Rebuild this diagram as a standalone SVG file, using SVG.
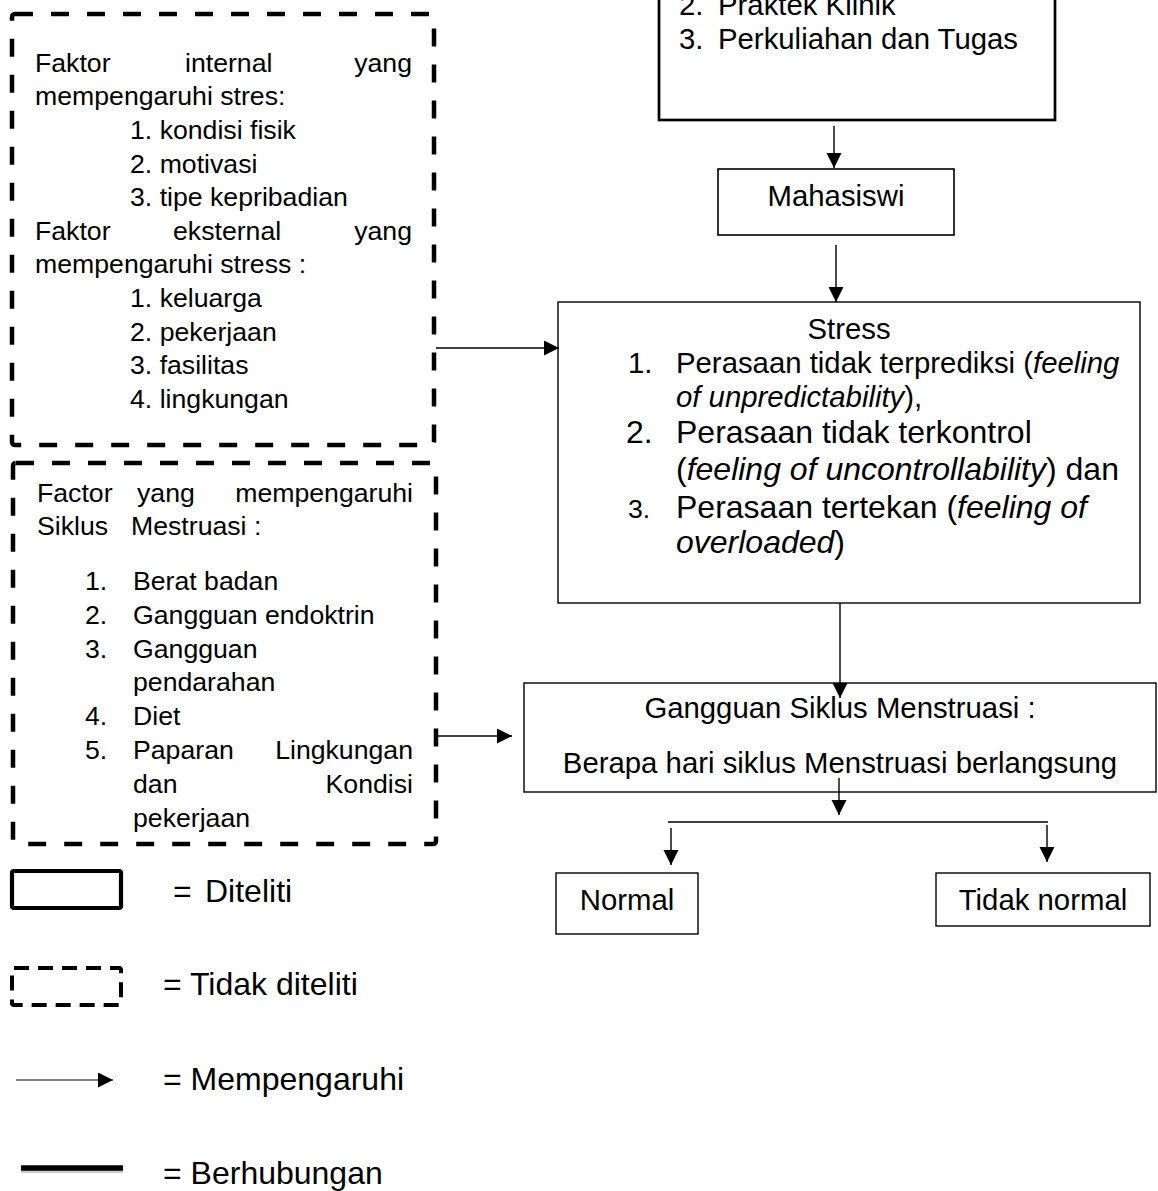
<svg xmlns="http://www.w3.org/2000/svg" width="1158" height="1191" viewBox="0 0 1158 1191">
<style>
text{font-family:"Liberation Sans",Arial,sans-serif;fill:#000}
.f26{font-size:26.67px}
.f29{font-size:29.33px}
.f32{font-size:32px}
.it{font-style:italic}
.dash{fill:none;stroke:#000;stroke-width:4.5;stroke-dasharray:18 18}
.box{fill:#fff;stroke:#000;stroke-width:1.4}
.con{fill:none;stroke:#000;stroke-width:1.4}
</style>
<defs>
<marker id="ah" markerUnits="userSpaceOnUse" markerWidth="16" markerHeight="16" refX="15" refY="7.5" orient="auto">
<path d="M0,0 L15,7.5 L0,15 z" fill="#000"/>
</marker>
</defs>
<rect width="1158" height="1191" fill="#fff"/>

<g id="node-top">
<rect x="659" y="-80" width="396" height="200" fill="#fff" stroke="#000" stroke-width="2.7"/>
<text class="f29" x="679" y="15">2.</text>
<text class="f29" x="718" y="15">Praktek Klinik</text>
<text class="f29" x="679" y="49">3.</text>
<text class="f29" x="718" y="49">Perkuliahan dan Tugas</text>
</g>

<g id="node-mahasiswi">
<rect x="718" y="169" width="236" height="66" fill="#fff" stroke="#000" stroke-width="1.6"/>
<text class="f29" x="836" y="206" text-anchor="middle">Mahasiswi</text>
</g>

<g id="node-internal">
<rect class="dash" x="12" y="14" width="422" height="431" rx="3"/>
<text class="f26" x="35" y="72">Faktor</text>
<text class="f26" x="185" y="72">internal</text>
<text class="f26" x="412" y="72" text-anchor="end">yang</text>
<text class="f26" x="35" y="105">mempengaruhi stres:</text>
<text class="f26" x="130" y="139">1. kondisi fisik</text>
<text class="f26" x="130" y="173">2. motivasi</text>
<text class="f26" x="130" y="206">3. tipe kepribadian</text>
<text class="f26" x="35" y="240">Faktor</text>
<text class="f26" x="173" y="240">eksternal</text>
<text class="f26" x="412" y="240" text-anchor="end">yang</text>
<text class="f26" x="35" y="273">mempengaruhi stress :</text>
<text class="f26" x="130" y="307">1. keluarga</text>
<text class="f26" x="130" y="341">2. pekerjaan</text>
<text class="f26" x="130" y="374">3. fasilitas</text>
<text class="f26" x="130" y="408">4. lingkungan</text>
</g>

<g id="node-siklus-factor">
<rect class="dash" x="13" y="463" width="423" height="381" rx="3"/>
<text class="f26" x="37" y="502">Factor</text>
<text class="f26" x="137" y="502">yang</text>
<text class="f26" x="413" y="502" text-anchor="end">mempengaruhi</text>
<text class="f26" x="37" y="535">Siklus</text>
<text class="f26" x="131" y="535">Mestruasi :</text>
<text class="f26" x="85" y="590">1.</text>
<text class="f26" x="133" y="590">Berat badan</text>
<text class="f26" x="85" y="624">2.</text>
<text class="f26" x="133" y="624">Gangguan endoktrin</text>
<text class="f26" x="85" y="658">3.</text>
<text class="f26" x="133" y="658">Gangguan</text>
<text class="f26" x="133" y="691">pendarahan</text>
<text class="f26" x="85" y="725">4.</text>
<text class="f26" x="133" y="725">Diet</text>
<text class="f26" x="85" y="759">5.</text>
<text class="f26" x="133" y="759">Paparan</text>
<text class="f26" x="413" y="759" text-anchor="end">Lingkungan</text>
<text class="f26" x="133" y="793">dan</text>
<text class="f26" x="413" y="793" text-anchor="end">Kondisi</text>
<text class="f26" x="133" y="827">pekerjaan</text>
</g>

<g id="node-stress">
<rect class="box" x="558" y="302" width="582" height="301"/>
<text class="f29" x="849" y="339" text-anchor="middle">Stress</text>
<text class="f29" x="628" y="373">1.</text>
<text class="f29" x="676" y="373">Perasaan tidak terprediksi (<tspan class="it">feeling</tspan></text>
<text class="f29" x="676" y="407"><tspan class="it">of unpredictability</tspan>),</text>
<text class="f32" x="626" y="443">2.</text>
<text class="f32" x="676" y="443">Perasaan tidak terkontrol</text>
<text class="f32" x="676" y="480">(<tspan class="it">feeling of uncontrollability</tspan>) dan</text>
<text class="f26" x="628" y="518">3.</text>
<text class="f32" x="676" y="518">Perasaan tertekan (<tspan class="it">feeling of</tspan></text>
<text class="f32" x="676" y="553"><tspan class="it">overloaded</tspan>)</text>
</g>

<g id="node-gangguan">
<rect class="box" x="524" y="683" width="632" height="109"/>
<text class="f29" x="840" y="718" text-anchor="middle">Gangguan Siklus Menstruasi :</text>
<text class="f29" x="840" y="773" text-anchor="middle">Berapa hari siklus Menstruasi berlangsung</text>
</g>

<g id="node-normal">
<rect class="box" x="556" y="873" width="142" height="61"/>
<text class="f29" x="627" y="910" text-anchor="middle">Normal</text>
</g>

<g id="node-tidak-normal">
<rect class="box" x="936" y="873" width="214" height="53"/>
<text class="f29" x="1043" y="910" text-anchor="middle">Tidak normal</text>
</g>

<g id="connectors">
<line class="con" x1="834" y1="126" x2="834" y2="168" marker-end="url(#ah)"/>
<line class="con" x1="836" y1="245" x2="836" y2="302" marker-end="url(#ah)"/>
<line class="con" x1="436" y1="348" x2="559" y2="348" marker-end="url(#ah)"/>
<line class="con" x1="840" y1="603" x2="840" y2="698" marker-end="url(#ah)"/>
<line class="con" x1="438" y1="736" x2="512" y2="736" marker-end="url(#ah)"/>
<line class="con" x1="839" y1="778" x2="839" y2="815" marker-end="url(#ah)"/>
<line class="con" x1="668" y1="822" x2="1048" y2="822"/>
<line class="con" x1="671" y1="828" x2="671" y2="865" marker-end="url(#ah)"/>
<line class="con" x1="1047" y1="825" x2="1047" y2="862" marker-end="url(#ah)"/>
</g>

<g id="legend">
<rect x="12" y="871" width="109" height="37" rx="2" fill="none" stroke="#000" stroke-width="4.2"/>
<text class="f32" x="173" y="902">=</text>
<text class="f32" x="205" y="902">Diteliti</text>
<rect x="12" y="968" width="109" height="37" rx="2" fill="none" stroke="#000" stroke-width="4" stroke-dasharray="15 9"/>
<text class="f32" x="163" y="995">= Tidak diteliti</text>
<line x1="16" y1="1080" x2="113" y2="1080" stroke="#000" stroke-width="1" marker-end="url(#ah)"/>
<text class="f32" x="163" y="1090">= Mempengaruhi</text>
<line x1="21" y1="1170" x2="123" y2="1170" stroke="#999" stroke-width="6" opacity="0.5"/>
<line x1="21" y1="1168" x2="123" y2="1168" stroke="#000" stroke-width="5.5"/>
<text class="f32" x="163" y="1184">= Berhubungan</text>
</g>
</svg>
